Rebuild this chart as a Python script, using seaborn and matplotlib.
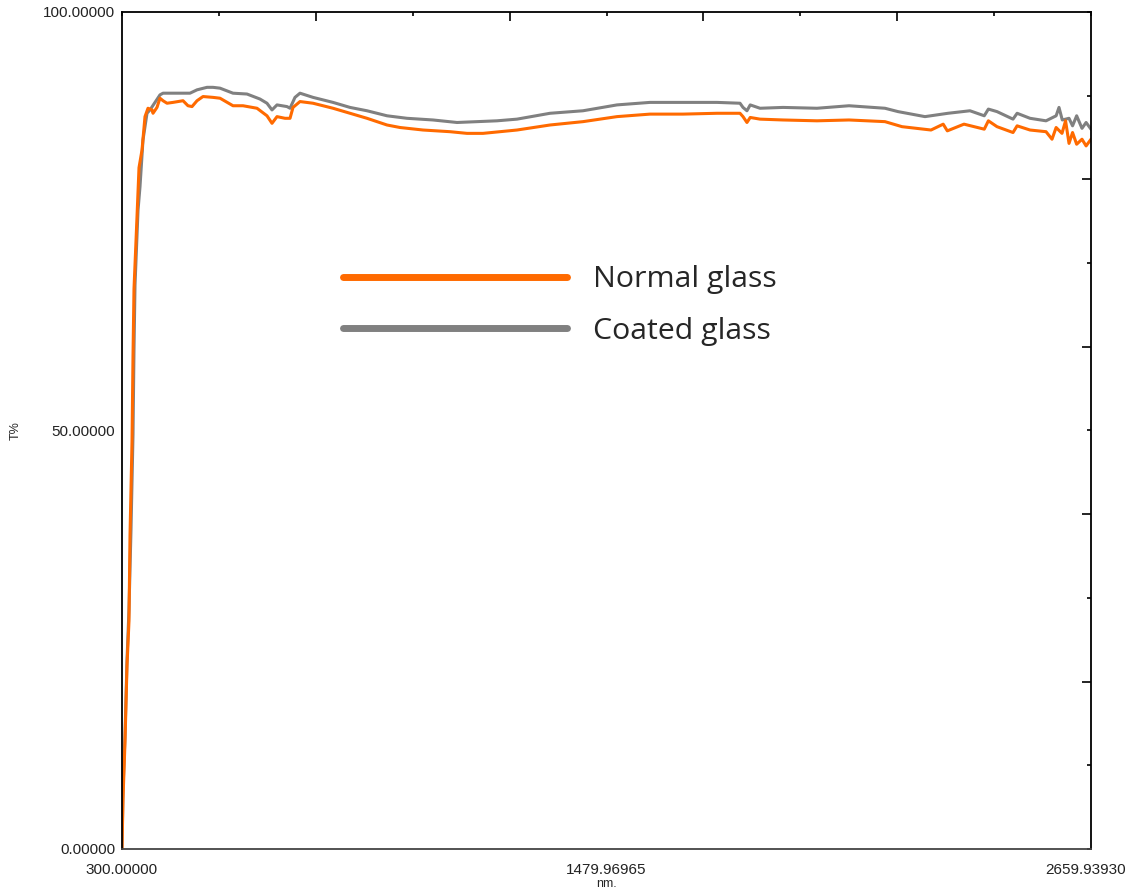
import numpy as np
import pandas as pd
import matplotlib
matplotlib.use("Agg")
import matplotlib.pyplot as plt
from matplotlib.ticker import FixedLocator, FixedFormatter
from matplotlib.transforms import ScaledTranslation
import seaborn as sns

# Transmission spectra (wavelength in nm, T in %)
normal_nm = [300.0, 302.4, 307.3, 312.2, 317.0, 319.5, 324.4, 326.8, 329.2, 336.5,
             341.4, 348.7, 356.0, 363.3, 373.1, 375.5, 385.2, 392.5, 399.9, 409.6,
             424.2, 448.6, 460.7, 470.5, 482.7, 497.3, 521.6, 538.7, 570.3, 594.7,
             628.8, 653.1, 665.3, 677.5, 697.0, 709.2, 716.5, 733.5, 765.2, 813.9,
             855.3, 896.7, 945.4, 977.1, 1033.1, 1098.8, 1140.2, 1179.2, 1220.6, 1262.0,
             1342.4, 1422.7, 1505.5, 1585.9, 1666.3, 1749.1, 1805.1, 1812.4, 1822.0, 1830.0,
             1853.8, 1909.8, 1992.6, 2070.6, 2158.2, 2199.6, 2270.3, 2300.0, 2310.0, 2350.6,
             2400.0, 2410.0, 2431.0, 2470.0, 2480.0, 2511.4, 2550.4, 2565.0, 2575.0, 2589.3,
             2598.0, 2606.4, 2615.0, 2625.0, 2638.0, 2648.0, 2659.9]
normal_t = [0.0, 5.9, 12.8, 21.9, 27.2, 37.5, 48.7, 58.9, 66.9, 75.5,
            81.4, 83.5, 87.5, 88.5, 88.3, 87.9, 88.6, 89.7, 89.4, 89.1,
            89.2, 89.4, 88.8, 88.7, 89.4, 89.9, 89.8, 89.7, 88.8, 88.8,
            88.5, 87.6, 86.7, 87.5, 87.3, 87.3, 88.6, 89.3, 89.1, 88.5,
            87.9, 87.3, 86.5, 86.2, 85.9, 85.7, 85.5, 85.5, 85.7, 85.9,
            86.5, 86.9, 87.5, 87.8, 87.8, 87.9, 87.9, 87.5, 86.8, 87.4,
            87.2, 87.1, 87.0, 87.1, 86.9, 86.3, 85.9, 86.6, 85.8, 86.6,
            86.0, 87.0, 86.3, 85.6, 86.4, 85.9, 85.7, 84.8, 86.2, 85.5,
            87.0, 84.3, 85.6, 84.2, 84.8, 84.0, 84.8]

coated_nm = [300.0, 302.4, 307.3, 312.2, 317.0, 321.9, 326.8, 329.2, 331.7, 339.0,
             343.8, 351.1, 360.9, 368.2, 392.5, 399.9, 424.2, 458.3, 465.6, 482.7,
             507.0, 521.6, 538.7, 570.3, 604.4, 636.1, 653.1, 665.3, 677.5, 701.8,
             709.2, 721.3, 733.5, 765.2, 813.9, 855.3, 896.7, 945.4, 994.1, 1057.4,
             1115.9, 1213.3, 1262.0, 1342.4, 1422.7, 1505.5, 1585.9, 1666.3, 1749.1, 1805.1,
             1812.4, 1822.0, 1830.0, 1853.8, 1909.8, 1992.6, 2070.6, 2158.2, 2189.9, 2255.6,
             2311.7, 2365.2, 2400.0, 2410.0, 2431.0, 2470.0, 2480.0, 2511.4, 2550.4, 2575.0,
             2582.0, 2590.0, 2606.4, 2615.0, 2625.0, 2638.0, 2648.0, 2659.9]
coated_t = [0.0, 7.0, 13.6, 22.6, 28.6, 38.1, 49.5, 59.6, 67.4, 76.3,
            79.1, 84.7, 87.9, 88.3, 90.1, 90.3, 90.3, 90.3, 90.3, 90.7,
            91.0, 91.0, 90.9, 90.3, 90.2, 89.6, 89.1, 88.3, 88.9, 88.7,
            88.5, 89.8, 90.3, 89.8, 89.2, 88.6, 88.2, 87.6, 87.3, 87.1,
            86.8, 87.0, 87.2, 87.9, 88.2, 88.9, 89.2, 89.2, 89.2, 89.1,
            88.6, 88.2, 88.9, 88.5, 88.6, 88.5, 88.8, 88.5, 88.1, 87.5,
            87.9, 88.2, 87.6, 88.4, 88.1, 87.2, 87.9, 87.3, 87.0, 87.6,
            88.6, 87.1, 87.3, 86.4, 87.6, 86.1, 86.8, 86.0]

x_labels = ["300.00000", "1479.96965", "2659.93930"]
y_labels = ["0.00000", "50.00000", "100.00000"]
series_names = ["Normal glass", "Coated glass"]
colors = ["#ff6a00", "#808080"]

X_MIN, X_MAX = 300.0, 2659.9393


def make_plot():
    sns.set_style("white")
    plt.rcParams["font.family"] = ["Liberation Sans", "DejaVu Sans"]

    fig = plt.figure(figsize=(11.28, 8.93), dpi=100)
    ax = fig.add_axes([122 / 1128, 44 / 893, 969 / 1128, 837 / 893])

    normal = pd.DataFrame({"nm": normal_nm, "T": normal_t})
    coated = pd.DataFrame({"nm": coated_nm, "T": coated_t})

    # gray underneath, orange on top
    sns.lineplot(data=coated, x="nm", y="T", ax=ax, color=colors[1],
                 linewidth=2.2, estimator=None, sort=False, label=series_names[1])
    sns.lineplot(data=normal, x="nm", y="T", ax=ax, color=colors[0],
                 linewidth=2.2, estimator=None, sort=False, label=series_names[0])

    ax.set_xlim(X_MIN, X_MAX)
    ax.set_ylim(0, 100)

    # labelled + short ticks at tenths, long ticks at fifths
    span = X_MAX - X_MIN
    x_major = [X_MIN + span * k / 10 for k in (0, 1, 3, 5, 7, 9, 10)]
    x_minor = [X_MIN + span * k / 10 for k in (2, 4, 6, 8)]
    x_text = [x_labels[0], "", "", x_labels[1], "", "", x_labels[2]]
    ax.xaxis.set_major_locator(FixedLocator(x_major))
    ax.xaxis.set_major_formatter(FixedFormatter(x_text))
    ax.xaxis.set_minor_locator(FixedLocator(x_minor))

    y_major = [0, 10, 30, 50, 70, 90, 100]
    y_text = [y_labels[0], "", "", y_labels[1], "", "", y_labels[2]]
    ax.yaxis.set_major_locator(FixedLocator(y_major))
    ax.yaxis.set_major_formatter(FixedFormatter(y_text))
    ax.yaxis.set_minor_locator(FixedLocator([20, 40, 60, 80]))

    ax.tick_params(which="both", direction="in", top=True, right=True,
                   color="black", width=1.2, labelsize=11, labelcolor="#222222")
    ax.tick_params(which="major", length=3.2)
    ax.tick_params(which="minor", length=6.2)
    ax.tick_params(axis="x", which="major", pad=10)
    ax.tick_params(axis="y", which="major", pad=5)

    for side in ax.spines.values():
        side.set_color("black")
        side.set_linewidth(1.3)
    ax.spines["bottom"].set_color("#444444")

    ax.set_xlabel("nm.", fontsize=9, labelpad=1)
    ax.set_ylabel("T%", fontsize=9, labelpad=15)

    handles, labels = ax.get_legend_handles_labels()
    order = [labels.index(n) for n in series_names]
    leg = ax.legend([handles[i] for i in order], [labels[i] for i in order],
                    loc="upper left", bbox_to_anchor=(0.228, 0.6976),
                    frameon=False, borderpad=0, borderaxespad=0,
                    handlelength=7.4, handletextpad=0.85, labelspacing=0.75,
                    prop={"family": ["Open Sans", "DejaVu Sans"], "size": 21.8})
    for h in leg.legend_handles:
        h.set_linewidth(5)
        h.set_solid_capstyle("round")

    # nudge the last x label a little so it stays inside the figure
    fig.canvas.draw()
    last = ax.xaxis.get_major_ticks()[-1].label1
    last.set_transform(last.get_transform() + ScaledTranslation(-4 / 72, 0, fig.dpi_scale_trans))

    fig.savefig("out.png", dpi=100)
    print("Saved 'out.png'")


if __name__ == "__main__":
    make_plot()
